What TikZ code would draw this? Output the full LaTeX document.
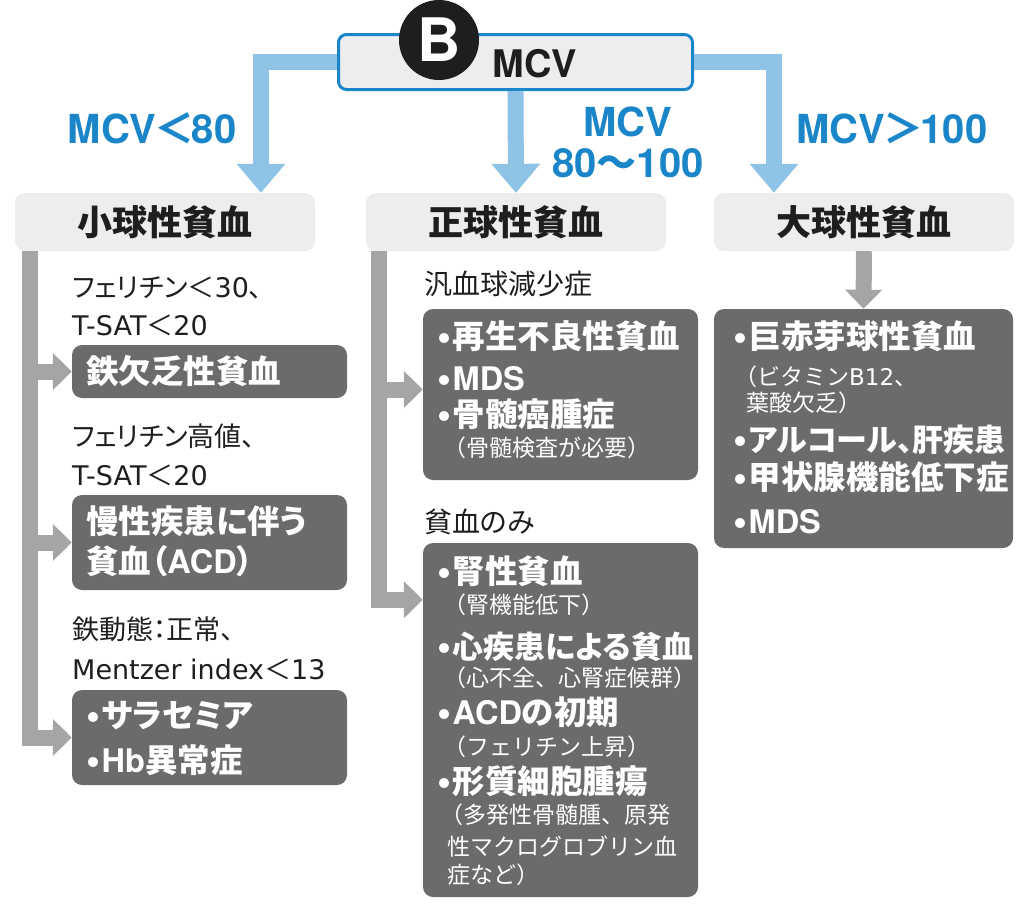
\documentclass[tikz,border=0pt]{standalone}
\usepackage{fontspec}
\usetikzlibrary{arrows.meta}
\setmainfont{Noto Sans CJK JP}
\newfontfamily\jpp{Noto Sans CJK JP}[RawFeature=+palt]
\newfontfamily\latR{DejaVu Sans}
\newfontfamily\latB{TeX Gyre Heros}
\newcommand\tR[1]{{\latR #1}}
\newcommand\tB[1]{{\latB #1}}
\newcommand\ltsign{\kern-0.06em＜\kern-0.06em}
\newcommand\gtsign{\kern-0.06em＞\kern-0.06em}
\newcommand\bul{\raisebox{-2pt}[0pt][0pt]{\latB\fontsize{40}{40}\selectfont •}\kern1.5pt}
\definecolor{bluea}{HTML}{8EC3E6}
\definecolor{bluet}{HTML}{1A86C9}
\definecolor{lgray}{HTML}{EDEDED}
\definecolor{dgray}{HTML}{6B6B6B}
\definecolor{garr}{HTML}{A5A5A5}
\definecolor{ink}{HTML}{1E1E1E}
\tikzset{
 cat/.style={fill=lgray, rounded corners=10pt, minimum width=300pt, minimum height=58pt, inner sep=0pt, font=\jpp\bfseries\fontsize{35}{40}\selectfont, text=ink},
 dbox/.style={fill=dgray, rounded corners=10pt, inner sep=0pt},
 lab/.style={anchor=west, inner sep=0pt, font=\jpp\fontsize{27}{30}\selectfont, text height=23.8pt, text depth=3.2pt, text=ink},
 labm/.style={anchor=west, inner sep=0pt, font=\jpp\fontsize{28}{32}\selectfont, text height=24.6pt, text depth=3.4pt, text=ink},
 item/.style={anchor=west, inner sep=0pt, font=\jpp\bfseries\fontsize{32.5}{36}\selectfont, text height=28.6pt, text depth=3.9pt, text=white},
 itemn/.style={item, font=\jpp\bfseries\fontsize{31}{36}\selectfont},
 note/.style={anchor=west, inner sep=0pt, font=\fontsize{23}{26}\selectfont, text height=20.2pt, text depth=2.8pt, text=white},
 blab/.style={inner sep=0pt, font=\jpp\bfseries\fontsize{40}{44}\selectfont, text=bluet, text height=35.2pt, text depth=4.8pt},
 barrow/.style={draw=bluea, line width=16pt, -{Triangle[width=47pt,length=29pt]}},
 garrow/.style={draw=garr, line width=16pt, -{Triangle[width=36pt,length=19pt]}},
}
\begin{document}
\begin{tikzpicture}[x=1pt,y=-1pt]
\useasboundingbox (0,0) rectangle (1029,918);
% top box
\node[draw=bluet, line width=3pt, fill=lgray, rounded corners=8pt, minimum width=354pt, minimum height=55pt, inner sep=0pt] (mcv) at (515.5,62) {};
\node[blab, text=ink, font=\latB\bfseries\fontsize{38}{42}\selectfont] (mcvt) at (535,62) {MCV};
\node[circle, fill=ink, minimum size=80pt, inner sep=0pt, text=white, font=\latB\bfseries\fontsize{60}{62}\selectfont] (badge) at (439,40) {B};
% categories
\node[cat] (smallcat) at (165,222) {小球性貧血};
\node[cat] (normocat) at (516,222) {正球性貧血};
\node[cat] (macrocat) at (864,222) {大球性貧血};
% blue labels
\node[blab] (l80) at (152,128) {\tB{MCV}\ltsign\tB{80}};
\node[blab] (lmid1) at (628,121) {\tB{MCV}};
\node[blab] (lmid2) at (628,162) {\tB{80}〜\tB{100}};
\node[blab] (l100) at (892,128) {\tB{MCV}\gtsign\tB{100}};
% blue arrows
\draw[barrow] (mcv.west) -| ([xshift=96pt]smallcat.north);
\draw[barrow] (mcv.south) -- (normocat.north);
\draw[barrow] (mcv.east) -| ([xshift=-90pt]macrocat.north);
% dark boxes
\node[dbox, minimum width=275pt, minimum height=53pt] (iron) at (209.5,371.5) {};
\node[dbox, minimum width=275pt, minimum height=95pt] (acd) at (209.5,542.5) {};
\node[dbox, minimum width=275pt, minimum height=95pt] (thal) at (209.5,737.5) {};
\node[dbox, minimum width=275pt, minimum height=171pt] (pan) at (560.5,394.5) {};
\node[dbox, minimum width=275pt, minimum height=354pt] (ane) at (560.5,720) {};
\node[dbox, minimum width=299pt, minimum height=239pt] (macro) at (863.5,428.5) {};
% gray arrows
\coordinate (lbar) at ([xshift=15pt]smallcat.south west);
\coordinate (mbar) at ([xshift=13.5pt]normocat.south west);
\draw[garrow] (lbar) |- (thal.west);
\draw[garrow] (iron.west -| lbar) -- (iron.west);
\draw[garrow] (acd.west -| lbar) -- (acd.west);
\draw[garrow] (mbar) |- ([yshift=-57pt]ane.north west);
\draw[garrow] ([yshift=5pt]pan.west -| mbar) -- ([yshift=5pt]pan.west);
\draw[garrow] (macrocat.south) -- (macro.north);
% left column texts
\node[lab] (fer1) at (72,287) {フェリチン＜\tR{30}、};
\node[lab] (tsat1) at (72,325) {\tR{T-SAT}＜\tR{20}};
\node[item] (irontxt) at (86,371.5) {鉄欠乏性貧血};
\node[lab] (fer2) at (72,436) {フェリチン高値、};
\node[lab] (tsat2) at (72,475) {\tR{T-SAT}＜\tR{20}};
\node[item] (acd1) at (86,521) {慢性疾患に伴う};
\node[item] (acd2) at (86,561) {貧血（\tB{ACD}）};
\node[lab] (fe3) at (72,629) {鉄動態：正常、};
\node[lab] (mentzer) at (72,669) {\tR{Mentzer index}＜\tR{13}};
\node[item] (th1) at (86,715) {\bul サラセミア};
\node[item] (th2) at (86,760) {\bul\tB{Hb}異常症};
% middle column texts
\node[labm] (pantitle) at (424,284) {汎血球減少症};
\node[item] (p1) at (437,336) {\bul 再生不良性貧血};
\node[item] (p2) at (437,378) {\bul\tB{MDS}};
\node[item] (p3) at (437,414) {\bul 骨髄癌腫症};
\node[note] (p4) at (443,448) {（骨髄検査が必要）};
\node[labm] (anetitle) at (424,522) {貧血のみ};
\node[item] (a1) at (437,571) {\bul 腎性貧血};
\node[note] (a1n) at (443,605) {（腎機能低下）};
\node[itemn] (a2) at (437,646) {\bul 心疾患による貧血};
\node[note] (a2n) at (443,678) {（心不全、心腎症候群）};
\node[item] (a3) at (437,712) {\bul\tB{ACD}の初期};
\node[note] (a3n) at (443,747) {（フェリチン上昇）};
\node[item] (a4) at (437,781) {\bul 形質細胞腫瘍};
\node[note] (a4n1) at (440,815) {（多発性骨髄腫、原発};
\node[note] (a4n2) at (447,847) {性マクログロブリン血};
\node[note] (a4n3) at (447,875) {症など）};
% right column texts
\node[item] (m1) at (733,336) {\bul 巨赤芽球性貧血};
\node[note] (m1n1) at (734,377) {（ビタミン\tR{B12}、};
\node[note] (m1n2) at (746,403) {葉酸欠乏）};
\node[itemn] (m2) at (733,439) {\bul アルコール、肝疾患};
\node[item] (m3) at (733,477) {\bul 甲状腺機能低下症};
\node[item] (m4) at (733,521) {\bul\tB{MDS}};
\end{tikzpicture}
\end{document}
